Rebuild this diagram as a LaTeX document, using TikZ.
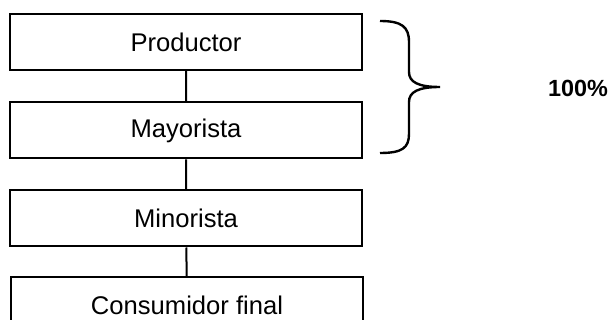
\documentclass[tikz,border=0pt]{standalone}
\usepackage{fontspec}
\setmainfont{Liberation Sans}
\begin{document}
\begin{tikzpicture}[line width=1pt,x=0.5pt,y=-0.5pt,font=\fontsize{12.8}{15}\selectfont,
	caja/.style={draw,minimum width=176pt,minimum height=28pt,inner sep=0pt}]
	\clip (0,0) rectangle (612,320);
	\node[caja] (P) at (186,42) {Productor};
	\node[caja] (M) at (186,130.5) {Mayorista};
	\node[caja] (m) at (186,218.5) {Minorista};
	\node[caja] (C) at (187,305) {Consumidor final};
	\draw (P)--(M) (M)--(m) (m)--(C);
	% llave
	\path (380,21) coordinate (L1)
	(440,87) coordinate (L2)
	(380,153) coordinate (L3);
	\draw[line width=1.2pt] (L1) .. controls (402,21) and (409,27) .. (409,42) -- (409,72)
	.. controls (409,82) and (418,87) .. (L2)
	.. controls (418,87) and (409,92) .. (409,102) -- (409,134)
	.. controls (409,148) and (402,153) .. (L3);
	\node[font=\fontsize{11.7}{14}\selectfont\bfseries] (T) at (578,88) {100\%};
\end{tikzpicture}
\end{document}
